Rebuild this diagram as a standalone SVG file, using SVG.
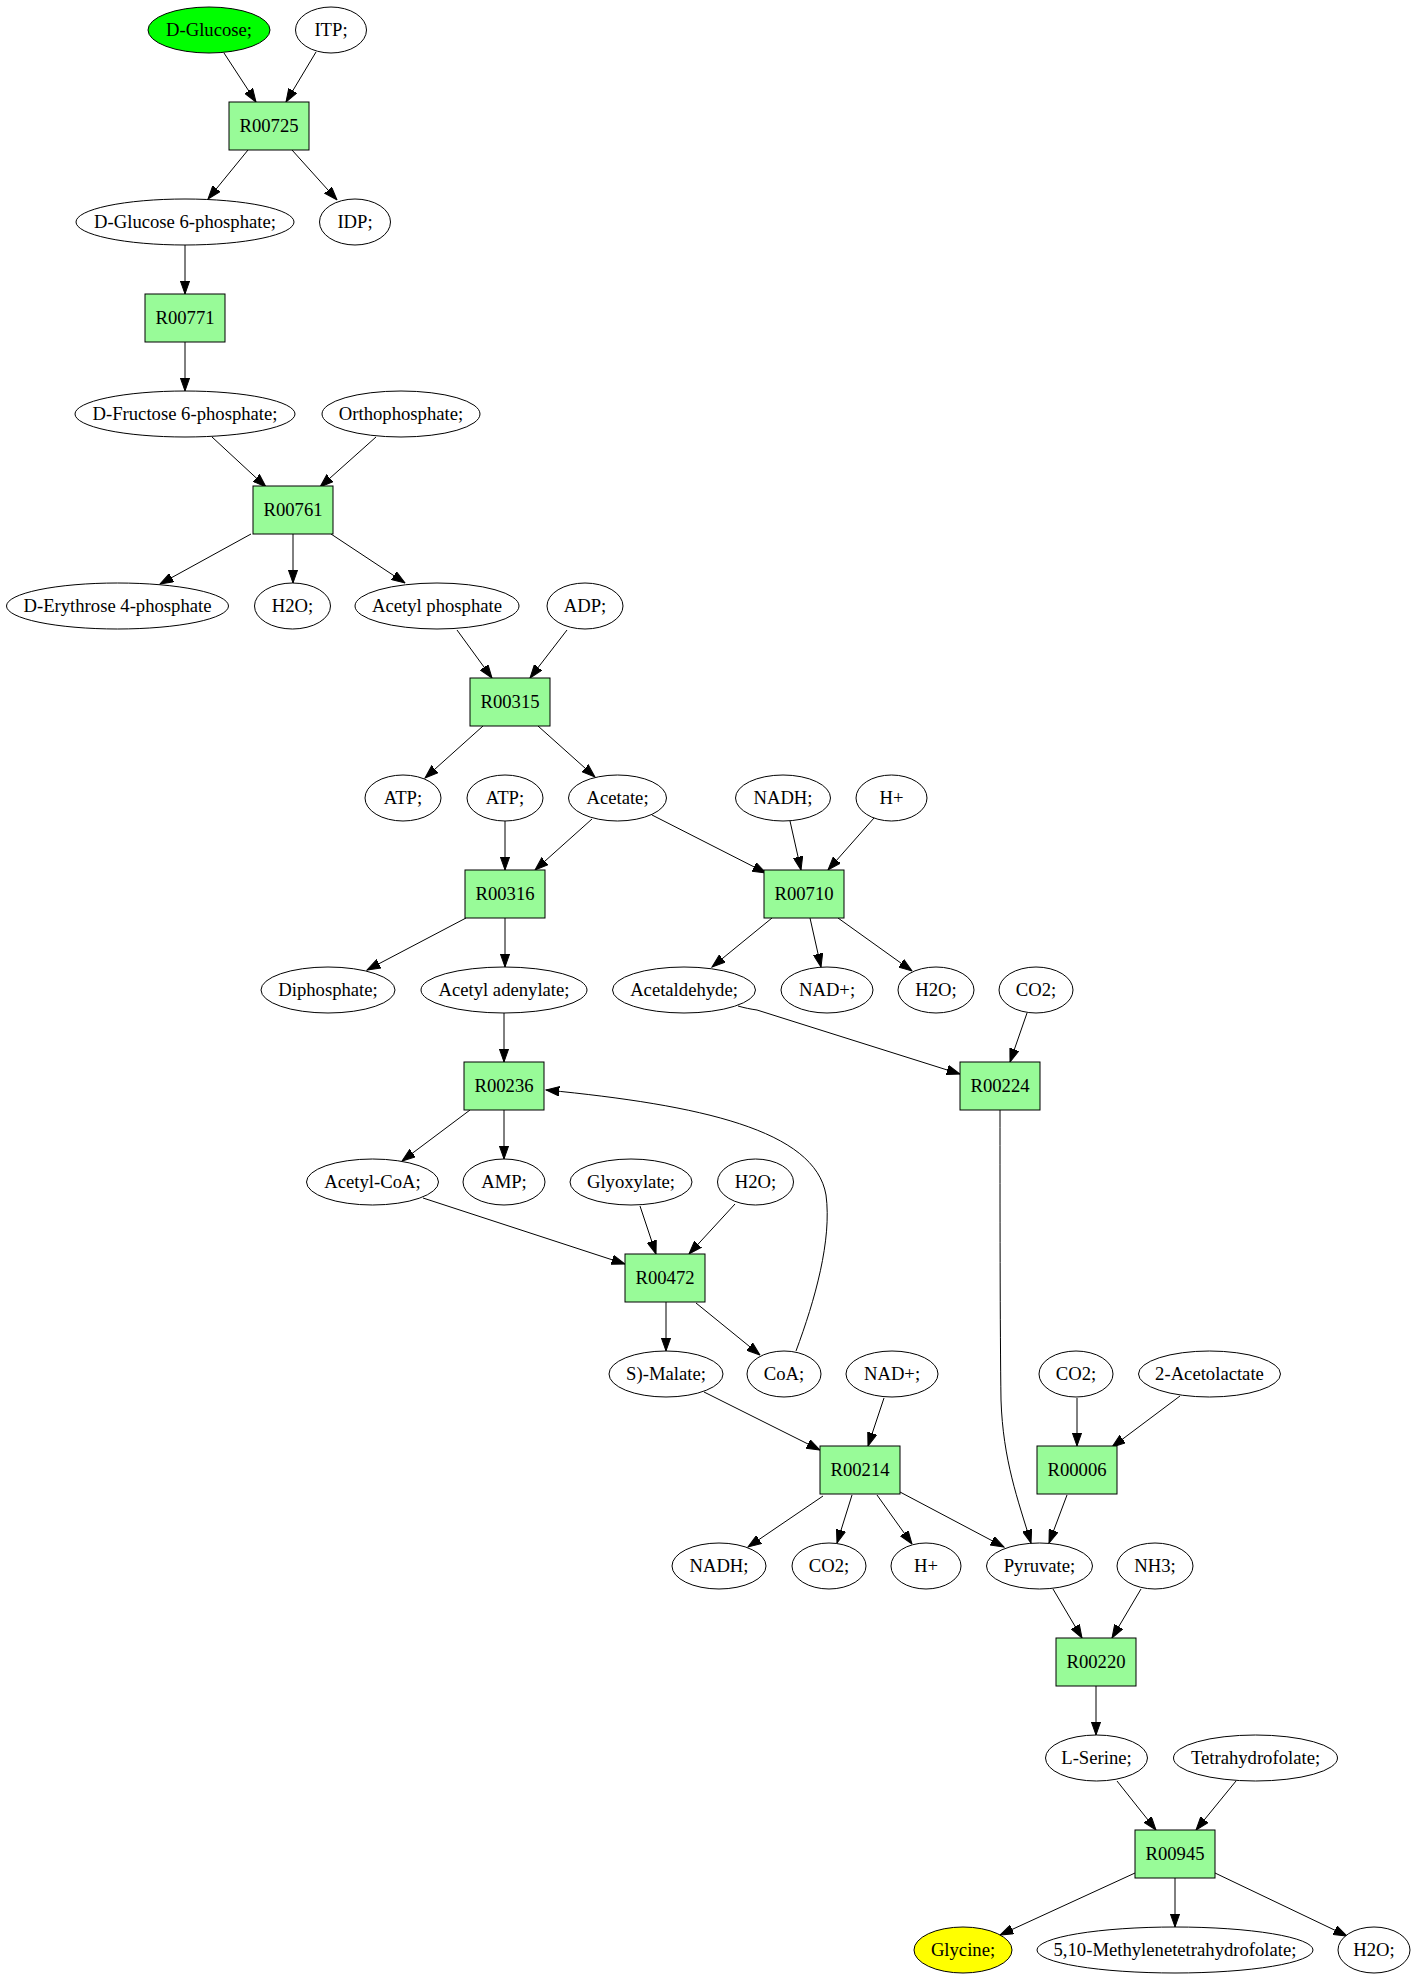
<svg xmlns="http://www.w3.org/2000/svg" width="1420" height="1979" viewBox="0 0 1420 1979">
<style>
.e{fill:#ffffff;stroke:#000000;stroke-width:1}
.r{fill:#98fb98;stroke:#000000;stroke-width:1}
.t{font-family:"Liberation Serif","Times New Roman",serif;font-size:18.67px;text-anchor:middle;fill:#000000}
.c path{fill:none;stroke:#000000;stroke-width:1;marker-end:url(#ah)}
</style>
<defs>
<marker id="ah" markerUnits="userSpaceOnUse" viewBox="0 -5 14 10" refX="13.3" refY="0" markerWidth="14" markerHeight="10" orient="auto">
<path d="M0,-4.7 L13.3,0 L0,4.7 Z" fill="#000000" stroke="#000000" stroke-width="1"/>
</marker>
</defs>
<rect x="0" y="0" width="1420" height="1979" fill="#ffffff"/>
<g class="c" id="connectors">
<path d="M224,53 L256,102"/>
<path d="M316,52 L286,102"/>
<path d="M248,150 L208,199"/>
<path d="M292,150 L337,200"/>
<path d="M185,245 L185,294"/>
<path d="M185,342 L185,391"/>
<path d="M212,437 L266,487"/>
<path d="M376,437 L320,487"/>
<path d="M251,534 L160,584"/>
<path d="M293,534 L293,583"/>
<path d="M331,534 L405,583"/>
<path d="M457,630 L492,678"/>
<path d="M567,630 L530,678"/>
<path d="M483,726 L425,778"/>
<path d="M538,726 L595,777"/>
<path d="M505,821 L505,870"/>
<path d="M592,819 L535,870"/>
<path d="M652,815 L766,873"/>
<path d="M790,821 L801,870"/>
<path d="M874,818 L828,870"/>
<path d="M466,918 L367,970"/>
<path d="M505,918 L505,967"/>
<path d="M772,918 L712,967"/>
<path d="M810,918 L821,967"/>
<path d="M838,918 L912,971"/>
<path d="M504,1013 L504,1062"/>
<path d="M738,1006 C745,1008 750,1009 757,1010 L960,1074"/>
<path d="M1027,1013 L1010,1062"/>
<path d="M470,1110 L402,1161"/>
<path d="M504,1110 L504,1159"/>
<path d="M796,1351 C815,1300 832,1240 826,1195 C815,1130 700,1105 546,1090"/>
<path d="M423,1198 L625,1264"/>
<path d="M640,1206 L656,1254"/>
<path d="M735,1204 L689,1254"/>
<path d="M666,1302 L666,1351"/>
<path d="M696,1303 L760,1355"/>
<path d="M704,1392 L820,1450"/>
<path d="M884,1398 L868,1446"/>
<path d="M1077,1398 L1077,1446"/>
<path d="M1180,1396 L1112,1447"/>
<path d="M823,1496 L748,1547"/>
<path d="M852,1495 L837,1543"/>
<path d="M877,1495 L912,1544"/>
<path d="M900,1492 L1004,1547"/>
<path d="M1000,1110 C1000,1200 1000,1330 1001,1400 C1003,1460 1018,1500 1031,1543"/>
<path d="M1067,1495 L1049,1543"/>
<path d="M1053,1589 L1082,1638"/>
<path d="M1141,1589 L1112,1638"/>
<path d="M1096,1686 L1096,1735"/>
<path d="M1117,1781 L1156,1830"/>
<path d="M1236,1781 L1196,1830"/>
<path d="M1135,1873 L1000,1935"/>
<path d="M1175,1878 L1175,1927"/>
<path d="M1215,1873 L1347,1936"/>
</g>
<g id="n_glucose"><ellipse class="e" cx="209" cy="30" rx="61" ry="23" style="fill:#00ff00"/><text class="t" x="209" y="36">D-Glucose;</text></g>
<g id="n_itp"><ellipse class="e" cx="331" cy="30" rx="35.5" ry="23"/><text class="t" x="331" y="36">ITP;</text></g>
<g id="r_R00725"><rect class="r" x="229" y="102" width="80" height="48"/><text class="t" x="269" y="132">R00725</text></g>
<g id="n_g6p"><ellipse class="e" cx="185" cy="222" rx="109" ry="23"/><text class="t" x="185" y="228">D-Glucose 6-phosphate;</text></g>
<g id="n_idp"><ellipse class="e" cx="355" cy="222" rx="35.5" ry="23"/><text class="t" x="355" y="228">IDP;</text></g>
<g id="r_R00771"><rect class="r" x="145" y="294" width="80" height="48"/><text class="t" x="185" y="324">R00771</text></g>
<g id="n_f6p"><ellipse class="e" cx="185" cy="414" rx="110" ry="23"/><text class="t" x="185" y="420">D-Fructose 6-phosphate;</text></g>
<g id="n_ortho"><ellipse class="e" cx="401" cy="414" rx="79" ry="23"/><text class="t" x="401" y="420">Orthophosphate;</text></g>
<g id="r_R00761"><rect class="r" x="253" y="486" width="80" height="48"/><text class="t" x="293" y="516">R00761</text></g>
<g id="n_e4p"><ellipse class="e" cx="117.5" cy="606" rx="111" ry="23"/><text class="t" x="117.5" y="612">D-Erythrose 4-phosphate</text></g>
<g id="n_h2o_1"><ellipse class="e" cx="292.5" cy="606" rx="38" ry="23"/><text class="t" x="292.5" y="612">H2O;</text></g>
<g id="n_acetylp"><ellipse class="e" cx="437" cy="606" rx="82" ry="23"/><text class="t" x="437" y="612">Acetyl phosphate</text></g>
<g id="n_adp"><ellipse class="e" cx="585" cy="606" rx="38" ry="23"/><text class="t" x="585" y="612">ADP;</text></g>
<g id="r_R00315"><rect class="r" x="470" y="678" width="80" height="48"/><text class="t" x="510" y="708">R00315</text></g>
<g id="n_atp_1"><ellipse class="e" cx="403" cy="798" rx="38" ry="23"/><text class="t" x="403" y="804">ATP;</text></g>
<g id="n_atp_2"><ellipse class="e" cx="505" cy="798" rx="38" ry="23"/><text class="t" x="505" y="804">ATP;</text></g>
<g id="n_acetate"><ellipse class="e" cx="617.5" cy="798" rx="49" ry="23"/><text class="t" x="617.5" y="804">Acetate;</text></g>
<g id="n_nadh_1"><ellipse class="e" cx="783" cy="798" rx="47.5" ry="23"/><text class="t" x="783" y="804">NADH;</text></g>
<g id="n_hplus_1"><ellipse class="e" cx="891.5" cy="798" rx="35.5" ry="23"/><text class="t" x="891.5" y="804">H+</text></g>
<g id="r_R00316"><rect class="r" x="465" y="870" width="80" height="48"/><text class="t" x="505" y="900">R00316</text></g>
<g id="r_R00710"><rect class="r" x="764" y="870" width="80" height="48"/><text class="t" x="804" y="900">R00710</text></g>
<g id="n_diphosphate"><ellipse class="e" cx="328" cy="990" rx="67" ry="23"/><text class="t" x="328" y="996">Diphosphate;</text></g>
<g id="n_acadenylate"><ellipse class="e" cx="504" cy="990" rx="83" ry="23"/><text class="t" x="504" y="996">Acetyl adenylate;</text></g>
<g id="n_acetaldehyde"><ellipse class="e" cx="684" cy="990" rx="71.5" ry="23"/><text class="t" x="684" y="996">Acetaldehyde;</text></g>
<g id="n_nadplus_1"><ellipse class="e" cx="827" cy="990" rx="46" ry="23"/><text class="t" x="827" y="996">NAD+;</text></g>
<g id="n_h2o_2"><ellipse class="e" cx="936" cy="990" rx="38" ry="23"/><text class="t" x="936" y="996">H2O;</text></g>
<g id="n_co2_1"><ellipse class="e" cx="1036" cy="990" rx="37" ry="23"/><text class="t" x="1036" y="996">CO2;</text></g>
<g id="r_R00236"><rect class="r" x="464" y="1062" width="80" height="48"/><text class="t" x="504" y="1092">R00236</text></g>
<g id="r_R00224"><rect class="r" x="960" y="1062" width="80" height="48"/><text class="t" x="1000" y="1092">R00224</text></g>
<g id="n_acetylcoa"><ellipse class="e" cx="372.5" cy="1182" rx="66" ry="23"/><text class="t" x="372.5" y="1188">Acetyl-CoA;</text></g>
<g id="n_amp"><ellipse class="e" cx="504" cy="1182" rx="41" ry="23"/><text class="t" x="504" y="1188">AMP;</text></g>
<g id="n_glyoxylate"><ellipse class="e" cx="631" cy="1182" rx="61" ry="23"/><text class="t" x="631" y="1188">Glyoxylate;</text></g>
<g id="n_h2o_3"><ellipse class="e" cx="755.5" cy="1182" rx="38" ry="23"/><text class="t" x="755.5" y="1188">H2O;</text></g>
<g id="r_R00472"><rect class="r" x="625" y="1254" width="80" height="48"/><text class="t" x="665" y="1284">R00472</text></g>
<g id="n_malate"><ellipse class="e" cx="666" cy="1374" rx="57" ry="23"/><text class="t" x="666" y="1380">S)-Malate;</text></g>
<g id="n_coa"><ellipse class="e" cx="784" cy="1374" rx="37" ry="23"/><text class="t" x="784" y="1380">CoA;</text></g>
<g id="n_nadplus_2"><ellipse class="e" cx="892" cy="1374" rx="46" ry="23"/><text class="t" x="892" y="1380">NAD+;</text></g>
<g id="n_co2_2"><ellipse class="e" cx="1076" cy="1374" rx="37" ry="23"/><text class="t" x="1076" y="1380">CO2;</text></g>
<g id="n_acetolactate"><ellipse class="e" cx="1209.5" cy="1374" rx="71" ry="23"/><text class="t" x="1209.5" y="1380">2-Acetolactate</text></g>
<g id="r_R00214"><rect class="r" x="820" y="1446" width="80" height="48"/><text class="t" x="860" y="1476">R00214</text></g>
<g id="r_R00006"><rect class="r" x="1037" y="1446" width="80" height="48"/><text class="t" x="1077" y="1476">R00006</text></g>
<g id="n_nadh_2"><ellipse class="e" cx="719" cy="1566" rx="47" ry="23"/><text class="t" x="719" y="1572">NADH;</text></g>
<g id="n_co2_3"><ellipse class="e" cx="829" cy="1566" rx="37" ry="23"/><text class="t" x="829" y="1572">CO2;</text></g>
<g id="n_hplus_2"><ellipse class="e" cx="926" cy="1566" rx="35" ry="23"/><text class="t" x="926" y="1572">H+</text></g>
<g id="n_pyruvate"><ellipse class="e" cx="1039.5" cy="1566" rx="53" ry="23"/><text class="t" x="1039.5" y="1572">Pyruvate;</text></g>
<g id="n_nh3"><ellipse class="e" cx="1155" cy="1566" rx="38" ry="23"/><text class="t" x="1155" y="1572">NH3;</text></g>
<g id="r_R00220"><rect class="r" x="1056" y="1638" width="80" height="48"/><text class="t" x="1096" y="1668">R00220</text></g>
<g id="n_lserine"><ellipse class="e" cx="1096.5" cy="1758" rx="51" ry="23"/><text class="t" x="1096.5" y="1764">L-Serine;</text></g>
<g id="n_thf"><ellipse class="e" cx="1255.5" cy="1758" rx="82" ry="23"/><text class="t" x="1255.5" y="1764">Tetrahydrofolate;</text></g>
<g id="r_R00945"><rect class="r" x="1135" y="1830" width="80" height="48"/><text class="t" x="1175" y="1860">R00945</text></g>
<g id="n_glycine"><ellipse class="e" cx="963" cy="1950" rx="49" ry="23" style="fill:#ffff00"/><text class="t" x="963" y="1956">Glycine;</text></g>
<g id="n_mthf"><ellipse class="e" cx="1175" cy="1950" rx="138" ry="23"/><text class="t" x="1175" y="1956">5,10-Methylenetetrahydrofolate;</text></g>
<g id="n_h2o_4"><ellipse class="e" cx="1374" cy="1950" rx="36" ry="23"/><text class="t" x="1374" y="1956">H2O;</text></g>
</svg>
